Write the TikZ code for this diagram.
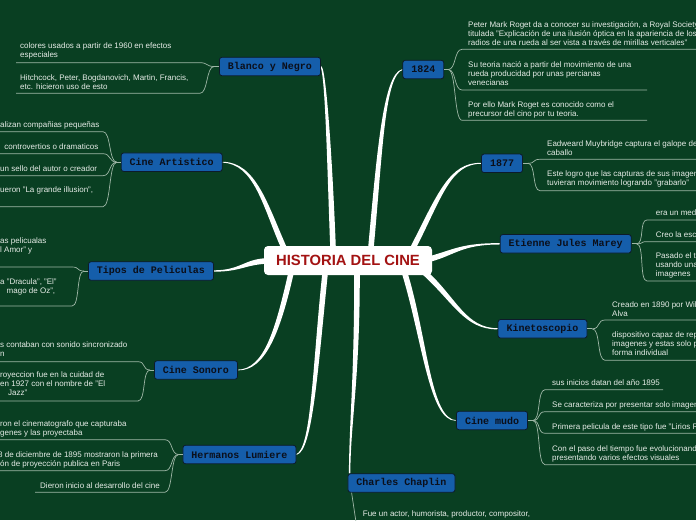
\documentclass[tikz,border=0pt]{standalone}
\usepackage{fontspec}
\setmainfont{Liberation Sans}
\newfontfamily\monof{Liberation Mono}
\usetikzlibrary{calc}
\definecolor{bgc}{HTML}{093F22}
\definecolor{leaftext}{HTML}{E6ECE7}
\definecolor{leafln}{HTML}{9FB7A7}
\definecolor{nodeblue}{HTML}{155EAB}
\definecolor{nodeedge}{HTML}{0D1B2A}
\definecolor{nodetext}{HTML}{0B0F1A}
\definecolor{titlered}{HTML}{A31212}
\pgfdeclarelayer{back}
\pgfsetlayers{back,main}
\tikzset{
 topic/.style={draw=nodeedge, line width=0.8pt, fill=nodeblue, rounded corners=2.5pt, text=nodetext, font=\monof\bfseries\fontsize{10}{12}\selectfont, inner xsep=8.5pt, inner ysep=0pt, minimum height=18.5pt},
 root/.style={fill=white, rounded corners=4pt, text=titlered, font=\bfseries\fontsize{14.8}{16}\selectfont, minimum width=168pt, minimum height=29pt, inner sep=0pt},
 leaf/.style={anchor=north west, inner sep=0pt, align=left, text=leaftext, font=\fontsize{8}{9}\selectfont},
 leafline/.style={draw=leafln, line width=0.7pt},
 branch/.style={fill=white},
}
\newcommand\lstrut{\rule{0pt}{6.5pt}}
\newcommand\taper[6]{%
  \fill[branch] let \p0=(#1), \p1=(#2), \p2=(#3), \p3=(#4),
    \n0={veclen((\x3)-(\x0),(\y3)-(\y0))},
    \n1={((\y0)-(\y3))/(\n0)}, \n2={((\x3)-(\x0))/(\n0)} in
    ({\x0+(\n1)*#5},{\y0+(\n2)*#5}) .. controls ({\x1+(\n1)*#5},{\y1+(\n2)*#5}) and ({\x2+(\n1)*#6},{\y2+(\n2)*#6}) .. ({\x3+(\n1)*#6},{\y3+(\n2)*#6})
    -- ({\x3-(\n1)*#6},{\y3-(\n2)*#6}) .. controls ({\x2-(\n1)*#6},{\y2-(\n2)*#6}) and ({\x1-(\n1)*#5},{\y1-(\n2)*#5}) .. ({\x0-(\n1)*#5},{\y0-(\n2)*#5}) -- cycle;}
\newcommand\lleaf[3]{\draw[leafline] (#1) .. controls +(-8,0) and +(8,0) .. (#2) -- (#3);}
\newcommand\rleaf[3]{\draw[leafline] (#1) .. controls +(8,0) and +(-8,0) .. (#2) -- (#3);}
\begin{document}
\begin{tikzpicture}[x=1pt,y=-1pt]
\useasboundingbox (0,0) rectangle (696,520);
\begin{pgfonlayer}{back}
\fill[bgc] (0,0) rectangle (696,520);
\end{pgfonlayer}

% main nodes
\node[root] (title) at (348,260.5) {HISTORIA DEL CINE};
\node[topic] (bn) at (270,66.5) {Blanco y Negro};
\node[topic] (ca) at (171.7,162.2) {Cine Artistico};
\node[topic] (tp) at (151,271) {Tipos de Peliculas};
\node[topic] (cs) at (196,370) {Cine Sonoro};
\node[topic] (hl) at (239.5,454.5) {Hermanos Lumiere};
\node[topic] (cc) at (401.5,483) {Charles Chaplin};
\node[topic] (y1824) at (423.3,69.5) {1824};
\node[topic] (y1877) at (502,163.3) {1877};
\node[topic] (ej) at (565.7,243.8) {Etienne Jules Marey};
\node[topic] (ki) at (542.5,328.8) {Kinetoscopio};
\node[topic] (cm) at (492,420.5) {Cine mudo};

% main branches
\begin{pgfonlayer}{back}
\taper{333,247}{330,170}{326,72}{bn.east}{2.8}{0.7}
\taper{284,248}{265,205}{255,163}{ca.east}{2.8}{0.7}
\taper{266,261}{245,262}{240,271}{tp.east}{2.8}{0.7}
\taper{291,273}{278,330}{265,370}{cs.east}{2.8}{0.7}
\taper{325,274}{315,370}{312,450}{hl.east}{2.8}{0.7}
\taper{357,274}{357,380}{350,420}{$(cc.north west)+(2,0)$}{2.8}{0.7}
\taper{371,247}{380,150}{384,75}{y1824.west}{2.8}{0.7}
\taper{413,248}{440,195}{450,163}{y1877.west}{2.8}{0.7}
\taper{430,259}{455,252}{462,243.8}{ej.west}{2.8}{0.7}
\taper{424,272}{455,300}{465,328.8}{ki.west}{2.8}{0.7}
\taper{405,274}{425,340}{430,420.5}{cm.west}{2.8}{0.7}
\end{pgfonlayer}

% junctions
\coordinate (jbn) at ($(bn.west)+(-5,0)$);
\coordinate (jca) at ($(ca.west)+(-4,0)$);
\coordinate (jtp) at ($(tp.west)+(-4,0)$);
\coordinate (jcs) at ($(cs.west)+(-4,0)$);
\coordinate (jhl) at ($(hl.west)+(-4,0)$);
\coordinate (j24) at ($(y1824.east)+(4,0)$);
\coordinate (j77) at ($(y1877.east)+(5,0)$);
\coordinate (jej) at ($(ej.east)+(5,0)$);
\coordinate (jki) at ($(ki.east)+(5,0)$);
\coordinate (jcm) at ($(cm.east)+(5,0)$);
\coordinate (ccdown) at (356,522);
\foreach \n/\j in {bn/jbn,ca/jca,tp/jtp,cs/jcs,hl/jhl}{\draw[leafline] (\n.west) -- (\j);}
\foreach \n/\j in {y1824/j24,y1877/j77,ej/jej,ki/jki,cm/jcm}{\draw[leafline] (\n.east) -- (\j);}
\draw[leafline] ($(cc.south west)+(4,0)$) -- (ccdown);

% Blanco y Negro
\lleaf{jbn}{200,62.7}{16,62.7}
\lleaf{jbn}{200,93.3}{16,93.3}
\node[leaf] (bn1) at (20,42) {\lstrut colores usados a partir de 1960 en efectos\\especiales};
\node[leaf] (bn2) at (20,73.7) {\lstrut Hitchcock, Peter, Bogdanovich, Martin, Francis,\\etc. hicieron uso de esto};

% Cine Artistico
\lleaf{jca}{103,131.7}{-2,131.7}
\lleaf{jca}{103,153.7}{-2,153.7}
\lleaf{jca}{103,175.7}{-2,175.7}
\lleaf{jca}{103,206.7}{-2,206.7}
\node[leaf] (ca1) at (0,120.7) {\lstrut alizan compañias pequeñas};
\node[leaf] (ca2) at (4.3,142.3) {\lstrut controvertios o dramaticos};
\node[leaf] (ca3) at (0,164.7) {\lstrut un sello del autor o creador};
\node[leaf] (ca4) at (0,186) {\lstrut ueron "La grande illusion",};

% Tipos de Peliculas
\lleaf{jtp}{72,267}{-2,267}
\lleaf{jtp}{72,306}{-2,306}
\node[leaf] (tp1) at (0,237) {\lstrut as pelicualas\\l Amor" y};
\node[leaf] (tp2) at (0,277.7) {\lstrut a "Dracula", "El"\\\hspace*{6.5pt}mago de Oz",};

% Cine Sonoro
\lleaf{jcs}{138,361.7}{-2,361.7}
\lleaf{jcs}{138,401}{-2,401}
\node[leaf] (cs1) at (0,340.7) {\lstrut s contaban con sonido sincronizado\\n};
\node[leaf] (cs2) at (0,371) {\lstrut royeccion fue en la cuidad de\\en 1927 con el nombre de "El\\\hspace*{8pt}Jazz"};

% Hermanos Lumiere
\lleaf{jhl}{165,439.7}{-2,439.7}
\lleaf{jhl}{165,470.7}{-2,470.7}
\lleaf{jhl}{165,492.3}{35,492.3}
\node[leaf] (hl1) at (0,419.7) {\lstrut ron el cinematografo que capturaba\\genes y las proyectaba};
\node[leaf] (hl2) at (-2,450.3) {\lstrut 8 de diciembre de 1895 mostraron la primera\\\hspace*{2pt}ón de proyección publica en Paris};
\node[leaf] (hl3) at (40,481.3) {\lstrut Dieron inicio al desarrollo del cine};

% 1824
\rleaf{j24}{462,49.3}{698,49.3}
\rleaf{j24}{462,90}{647,90}
\rleaf{j24}{462,120.3}{647,120.3}
\node[leaf] (a1) at (468,20.7) {\lstrut Peter Mark Roget da a conocer su investigación, a Royal Society\\titulada "Explicación de una ilusión óptica en la apariencia de los\\radios de una rueda al ser vista a través de mirillas verticales"};
\node[leaf] (a2) at (468,60.3) {\lstrut Su teoria nació a partir del movimiento de una\\rueda producidad por unas percianas\\venecianas};
\node[leaf] (a3) at (468,100.7) {\lstrut Por ello Mark Roget es conocido como el\\precursor del cino por tu teoria.};

% 1877
\rleaf{j77}{540,159.3}{698,159.3}
\rleaf{j77}{540,190.7}{698,190.7}
\node[leaf] (b1) at (547,139.3) {\lstrut Eadweard Muybridge captura el galope del\\caballo};
\node[leaf] (b2) at (547,169.7) {\lstrut Este logro que las capturas de sus imagenes\\tuvieran movimiento logrando "grabarlo"};

% Etienne Jules Marey
\rleaf{jej}{647,220}{698,220}
\rleaf{jej}{647,241.7}{698,241.7}
\rleaf{jej}{647,281}{698,281}
\node[leaf] (e1) at (655.7,208.7) {\lstrut era un med};
\node[leaf] (e2) at (655.7,230.3) {\lstrut Creo la esc};
\node[leaf] (e3) at (655.7,252) {\lstrut Pasado el t\\usando una\\imagenes};

% Kinetoscopio
\rleaf{jki}{605,320}{698,320}
\rleaf{jki}{605,360.3}{698,360.3}
\node[leaf] (k1) at (612,300.7) {\lstrut Creado en 1890 por Wil\\Alva};
\node[leaf] (k2) at (612,331) {\lstrut dispositivo capaz de rep\\imagenes y estas solo p\\forma individual};

% Cine mudo
\rleaf{jcm}{545,389.7}{663,389.7}
\rleaf{jcm}{545,411.7}{698,411.7}
\rleaf{jcm}{545,433.3}{698,433.3}
\rleaf{jcm}{545,464.7}{698,464.7}
\node[leaf] (m1) at (552,378.7) {\lstrut sus inicios datan del año 1895};
\node[leaf] (m2) at (552,400.3) {\lstrut Se caracteriza por presentar solo imagenes};
\node[leaf] (m3) at (552,422.7) {\lstrut Primera pelicula de este tipo fue "Lirios R};
\node[leaf] (m4) at (552,445) {\lstrut Con el paso del tiempo fue evolucionando\\presentando varios efectos visuales};

% Charles Chaplin
\node[leaf] (c1) at (362.7,510) {\lstrut Fue un actor, humorista, productor, compositor,};
\end{tikzpicture}
\end{document}
